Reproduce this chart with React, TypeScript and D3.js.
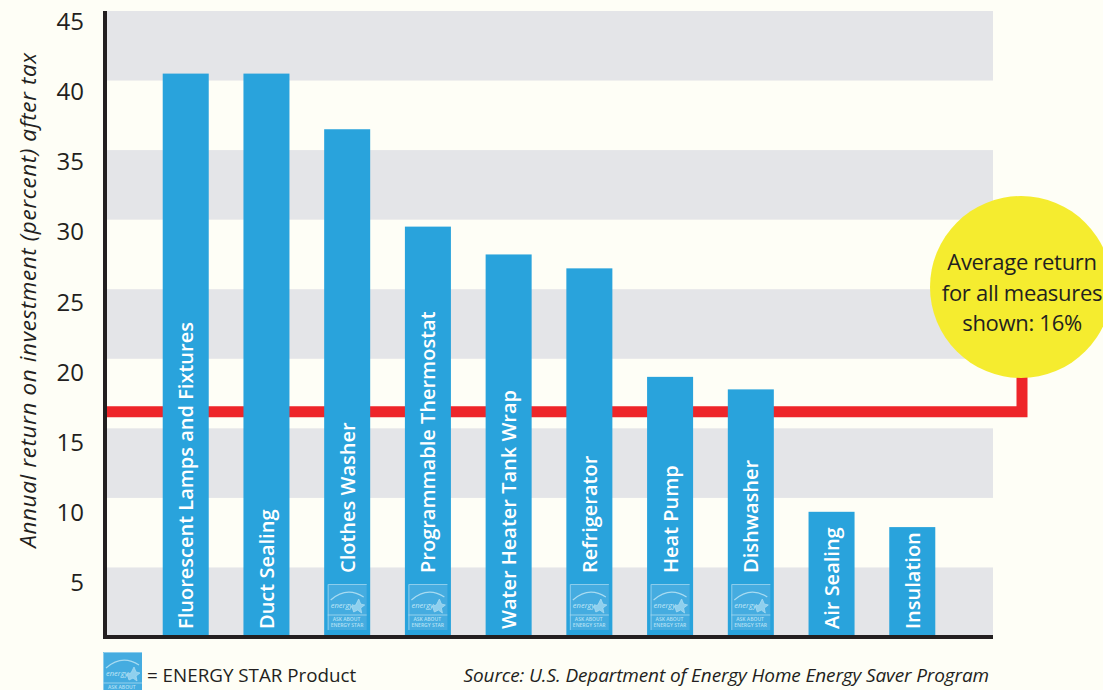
import React from 'react';
import * as d3 from 'd3';

const measures = [
  'Fluorescent Lamps and Fixtures',
  'Duct Sealing',
  'Clothes Washer',
  'Programmable Thermostat',
  'Water Heater Tank Wrap',
  'Refrigerator',
  'Heat Pump',
  'Dishwasher',
  'Air Sealing',
  'Insulation',
];
const returns = [40.5, 40.5, 36.5, 29.5, 27.5, 26.5, 18.7, 17.8, 9, 7.9];
const energyStar = [false, false, true, true, false, true, true, true, false, false];
const yTicks = [5, 10, 15, 20, 25, 30, 35, 40, 45];
const shadedBands = [0, 10, 20, 30, 40];
const averageLine = 16.2;
const calloutLines = ['Average return', 'for all measures', 'shown: 16%'];

const font = '"Open Sans", sans-serif';
const blue = '#29a3dc';
const ink = '#231f20';

const y = d3.scaleLinear().domain([0, 45]).range([637, 11]);
// the tick labels in the original sit on their own, slightly tighter spacing
const yLabel = d3.scaleLinear().domain([5, 45]).range([591, 30]);
const x = d3.scaleBand<string>().domain(measures).range([105, 993]).paddingInner(0.43).paddingOuter(0.715);

// small stand-in for the ENERGY STAR logo, the legend copy is cut short by the page edge
function StarLogo({ px, py, short = false }: { px: number; py: number; short?: boolean }) {
  return (
    <g transform={`translate(${px},${py})`} fill="none" stroke="#a8dbf1">
      <rect width={39} height={short ? 38 : 46} fill="#45ace0" stroke="none" />
      <path d={`M0.5,${short ? 38 : 46}V0.5H39`} strokeWidth={1} stroke="#8ccdec" />
      <path d="M3,16Q19,2 36,13" strokeWidth={1.2} />
      <text x={3} y={24} fontFamily={font} fontStyle="italic" fontSize={7.5} fill="#c4e8f7" stroke="none">
        energy
      </text>
      <path d="M24,22L28,21L31,15L33,20L37,21L33,24L34,29L30,26L26,28Z" strokeWidth={0.8} fill="#8fd0ee" />
      <path d="M0,31H39" strokeWidth={0.8} />
      <text x={5} y={36.5} fontFamily={font} fontSize={5} fontWeight={600} fill="#b5e0f4" stroke="none">
        ASK ABOUT
      </text>
      {short ? null : (
        <text x={3} y={43} fontFamily={font} fontSize={5} fontWeight={600} fill="#b5e0f4" stroke="none">
          ENERGY STAR
        </text>
      )}
    </g>
  );
}

export default function App() {
  const lineY = y(averageLine);
  return (
    <svg width={1103} height={690} style={{ position: 'absolute', left: 0, top: 0, background: '#fefef6' }}>
      {shadedBands.map((b) => (
        <rect key={b} x={105} y={y(b + 5)} width={888} height={y(b) - y(b + 5)} fill="#e4e5e8" />
      ))}

      <path d={`M105,${lineY}H1022V372`} fill="none" stroke="#ee2529" strokeWidth={11} />

      {measures.map((m, i) => (
        <rect key={m} x={x(m)} y={y(returns[i])} width={x.bandwidth()} height={y(0) - y(returns[i])} fill={blue} />
      ))}

      {measures.map((m, i) =>
        energyStar[i] ? <StarLogo key={m} px={x(m)! + 3.5} py={584} /> : null
      )}

      {measures.map((m, i) => (
        <text
          key={m}
          transform={`translate(${x(m)! + x.bandwidth() / 2 + 7.5},${energyStar[i] ? 573 : 629}) rotate(-90)`}
          fontFamily={font}
          fontSize={20}
          fontWeight={600}
          fill="#fff"
        >
          {m}
        </text>
      ))}

      <path d="M105,11V637H993" fill="none" stroke={ink} strokeWidth={4} />

      {yTicks.map((t) => (
        <text key={t} x={84} y={yLabel(t)} textAnchor="end" fontFamily={font} fontSize={24} fill={ink}>
          {t}
        </text>
      ))}

      <text
        transform="translate(36,300) rotate(-90)"
        textAnchor="middle"
        fontFamily={font}
        fontStyle="italic"
        fontSize={22.5}
        letterSpacing={0.6}
        fill={ink}
      >
        Annual return on investment (percent) after tax
      </text>

      <circle cx={1021} cy={287} r={91} fill="#f5ec2f" />
      {calloutLines.map((l, i) => (
        <text key={l} x={1022} y={270 + i * 30.5} textAnchor="middle" fontFamily={font} fontSize={22} letterSpacing={-0.3} fill={ink}>
          {l}
        </text>
      ))}

      <StarLogo px={103} py={652} short />
      <text x={147} y={682} fontFamily={font} fontSize={18.8} fill={ink}>
        = ENERGY STAR Product
      </text>
      <text x={989} y={682} textAnchor="end" fontFamily={font} fontStyle="italic" fontSize={19} letterSpacing={-0.12} fill={ink}>
        Source: U.S. Department of Energy Home Energy Saver Program
      </text>
    </svg>
  );
}
